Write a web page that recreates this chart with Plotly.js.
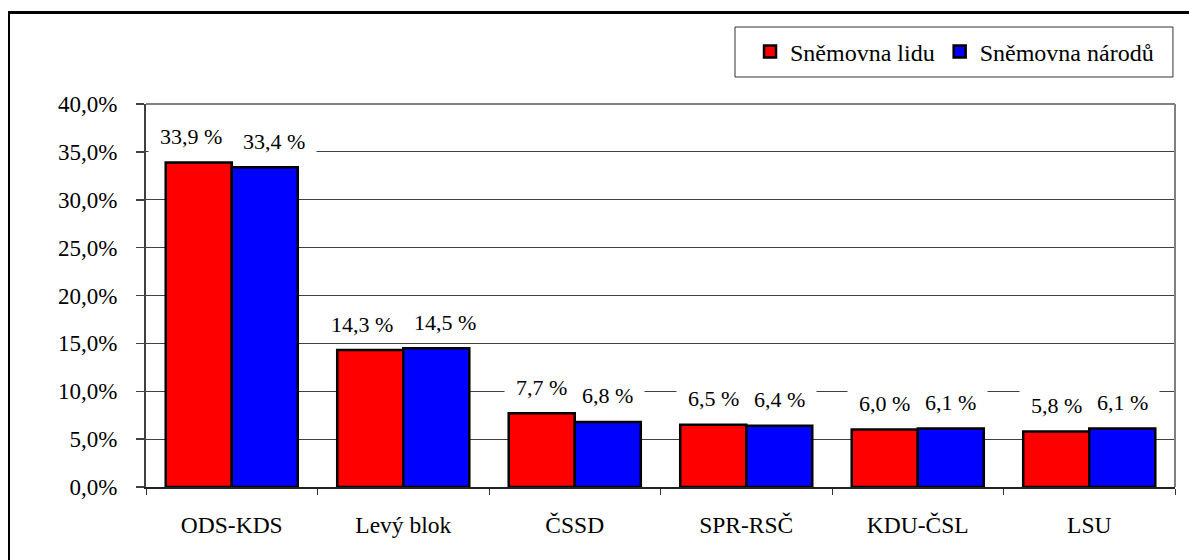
<!DOCTYPE html>
<html>
<head>
<meta charset="utf-8">
<script src="https://cdn.plot.ly/plotly-3.0.1.min.js"></script>
<style>
  html, body { margin: 0; padding: 0; background: #fff; overflow: hidden; }
  #chart { width: 1189px; height: 560px; position: absolute; left: 0; top: 0; }
  #frame { position: absolute; left: 8px; top: 11px; width: 1400px; height: 800px;
           border-top: 3px solid #000; border-left: 2px solid #000; pointer-events: none; }
</style>
</head>
<body>
<div id="chart"></div>
<div id="frame"></div>
<script>
const categories = ["ODS-KDS", "Levý blok", "ČSSD", "SPR-RSČ", "KDU-ČSL", "LSU"];
const seriesNames = ["Sněmovna lidu", "Sněmovna národů"];
const snemovnaLidu = [33.9, 14.3, 7.7, 6.5, 6.0, 5.8];
const snemovnaNarodu = [33.4, 14.5, 6.8, 6.4, 6.1, 6.1];
const yTickVals = [0, 5, 10, 15, 20, 25, 30, 35, 40];
const yTickText = yTickVals.map(v => v.toFixed(1).replace(".", ",") + "%");

const FONT = "Liberation Serif";
const colors = ["#ff0000", "#0000ff"];
const series = [snemovnaLidu, snemovnaNarodu];
const bargap = 0.23;

const traces = series.map((vals, i) => ({
  type: "bar",
  name: seriesNames[i],
  x: categories,
  y: vals,
  marker: { color: colors[i], line: { color: "#000", width: 2.5 } },
  hoverinfo: "none"
}));

// data labels with white background; wider (two-digit) labels are nudged apart
const barW = (1 - bargap) / series.length;
const annotations = [];
series.forEach((vals, s) => {
  const off = -0.5 * (1 - bargap) + barW * (s + 0.5);
  vals.forEach((v, i) => {
    const wide = Math.max(snemovnaLidu[i], snemovnaNarodu[i]) >= 10;
    annotations.push({
      xref: "x", yref: "y",
      x: i + off, y: v,
      text: "\u00a0\u00a0" + v.toFixed(1).replace(".", ",") + " %\u00a0\u00a0",
      showarrow: false,
      xanchor: "center", yanchor: "bottom",
      xshift: wide ? (s === 0 ? -8 : 9) : 0,
      yshift: 9.5,
      height: 32,
      borderpad: 0,
      bgcolor: "#ffffff",
      font: { family: FONT, size: 22, color: "#000" }
    });
  });
});

const layout = {
  width: 1189, height: 560,
  margin: { l: 146, r: 14, t: 104, b: 73 },
  font: { family: FONT, size: 22, color: "#000" },
  paper_bgcolor: "#fff",
  plot_bgcolor: "#fff",
  barmode: "group",
  bargap: bargap,
  bargroupgap: 0,
  showlegend: true,
  legend: {
    orientation: "h",
    x: 0.587, xanchor: "left",
    y: 1.1358, yanchor: "middle",
    bgcolor: "rgba(0,0,0,0)",
    borderwidth: 0,
    font: { family: FONT, size: 24, color: "#000" }
  },
  xaxis: {
    type: "category",
    tickson: "boundaries",
    ticks: "outside", ticklen: 6, tickwidth: 1, tickcolor: "#333",
    showline: true, linecolor: "#222", linewidth: 2,
    showgrid: false, zeroline: false,
    ticklabelstandoff: 16,
    tickfont: { family: FONT, size: 23.5, color: "#000" },
    fixedrange: true
  },
  yaxis: {
    range: [0, 40],
    tickmode: "array",
    tickvals: yTickVals,
    ticktext: yTickText,
    ticks: "outside", ticklen: 8, tickwidth: 1.5, tickcolor: "#404040",
    showline: true, linecolor: "#404040", linewidth: 2,
    showgrid: true, gridcolor: "#404040", gridwidth: 1,
    zeroline: false,
    ticklabelstandoff: 14,
    tickfont: { family: FONT, size: 23, color: "#000" },
    fixedrange: true
  },
  shapes: [
    { type: "line", xref: "paper", yref: "paper", x0: 0, x1: 1, y0: 1, y1: 1,
      line: { color: "#808080", width: 2 } },
    { type: "line", xref: "paper", yref: "paper", x0: 1, x1: 1, y0: 0, y1: 1,
      line: { color: "#808080", width: 2 } },
    // legend frame
    { type: "rect", xref: "paper", yref: "paper",
      x0: 0.5724, x1: 0.998, y0: 1.0705, y1: 1.201,
      fillcolor: "rgba(0,0,0,0)", line: { color: "#333", width: 1 } }
  ],
  annotations: annotations
};

Plotly.newPlot("chart", traces, layout, { staticPlot: true, displayModeBar: false });
</script>
</body>
</html>
